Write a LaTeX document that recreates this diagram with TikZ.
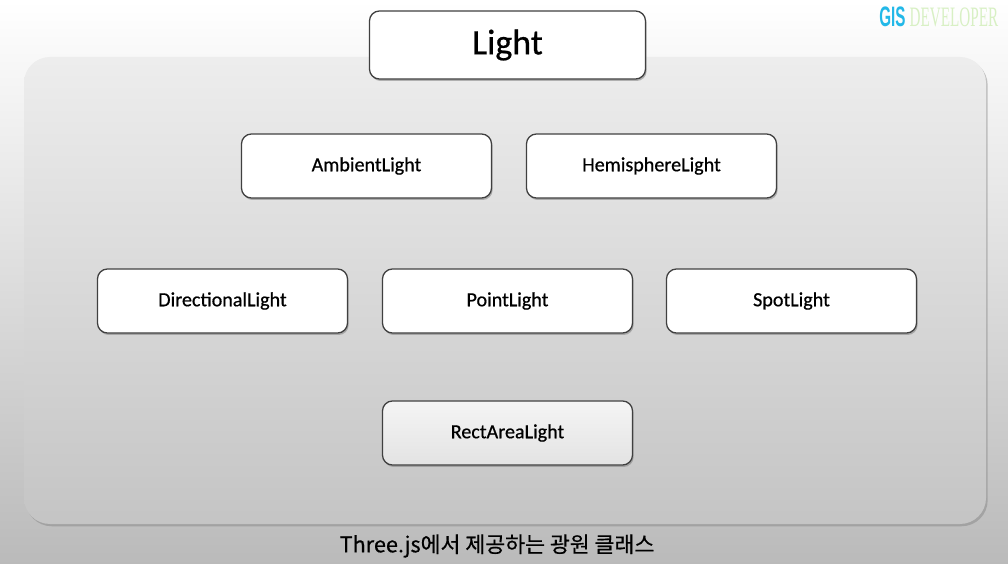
\documentclass[tikz,border=0pt]{standalone}
\usepackage{fontspec}
\setmainfont{Carlito}[FakeBold=0.6]
\newfontfamily\krfont{Noto Sans CJK KR}[FakeBold=0.5]
\newfontfamily\wmfont{Liberation Serif}
\newfontfamily\wmbold{Liberation Sans}
\usetikzlibrary{shadows}
\definecolor{gisblue}{HTML}{22B8E8}
\definecolor{gisgreen}{HTML}{D8F0C4}
\tikzset{
  lightbox/.style={draw=black!75, line width=0.9pt, fill=white, rounded corners=0.25cm,
    minimum width=6.25cm, minimum height=1.6cm, font=\fontsize{14.3}{16}\selectfont,
    drop shadow={shadow xshift=0.8pt, shadow yshift=-1.4pt, opacity=0.55}},
  topbox/.style={lightbox, minimum width=6.9cm, minimum height=1.7cm,
    font=\fontsize{25.5}{28}\selectfont}
}
\begin{document}
\begin{tikzpicture}[x=0.025cm, y=-0.025cm]
  \useasboundingbox (0,0) rectangle (1008,564);
  % background
  \shade[top color=white, middle color=black!4, bottom color=black!27] (0,0) rectangle (1008,564);
  \shade[top color=black!7, bottom color=black!23, rounded corners=0.65cm,
    drop shadow={shadow xshift=1.2pt, shadow yshift=-1.6pt, opacity=0.45}] (24,57) rectangle (986,524);
  % boxes
  \node[topbox] (light) at (507.5,45) {Light};
  \node[lightbox] (ambient) at (366.5,166) {AmbientLight};
  \node[lightbox] (hemi) at (651.5,166) {HemisphereLight};
  \node[lightbox] (directional) at (222.5,301) {DirectionalLight};
  \node[lightbox] (point) at (507.5,301) {PointLight};
  \node[lightbox] (spot) at (791.5,301) {SpotLight};
  \node[lightbox, top color=black!4, bottom color=black!11] (rectarea) at (507.5,433) {RectAreaLight};
  % caption and watermark
  \node[font=\krfont\fontsize{15.4}{17}\selectfont] (caption) at (497,546) {Three.js에서 제공하는 광원 클래스};
  \node[anchor=west, inner sep=0pt] (mark) at (879,17)
    {\scalebox{0.54}[1]{\fontsize{20}{22}\selectfont\wmbold\bfseries\color{gisblue}GIS\ \wmfont\mdseries\color{gisgreen}DEVELOPER}};
\end{tikzpicture}
\end{document}
